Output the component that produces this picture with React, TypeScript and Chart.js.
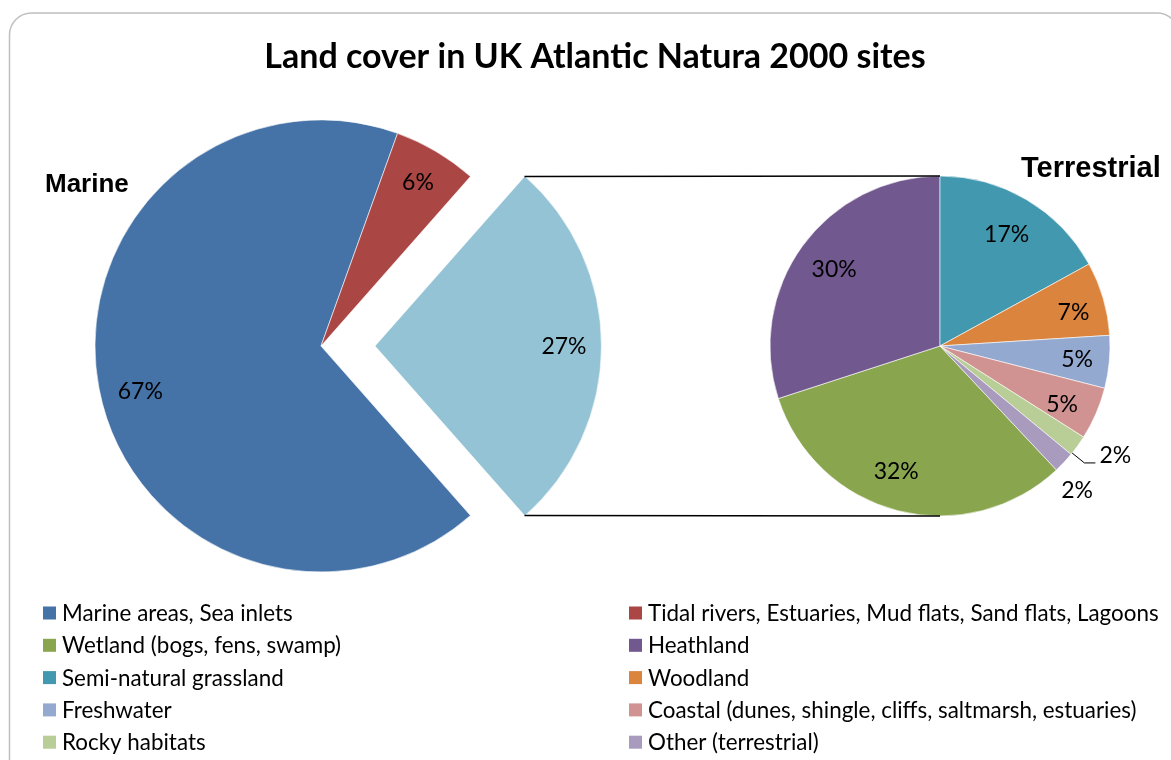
import React, { useEffect, useRef } from "react";
import { Chart, registerables } from "chart.js";

Chart.register(...registerables);

const W = 1171;
const H = 760;

// ---------- data ----------
const chartTitle = "Land cover in UK Atlantic Natura 2000 sites";
const mainPieTitle = "Marine";
const subPieTitle = "Terrestrial";

const mainCategories = [
  "Marine areas, Sea inlets",
  "Tidal rivers, Estuaries, Mud flats, Sand flats, Lagoons",
  "Terrestrial",
];
const mainValues = [67, 6, 27];
const mainColors = ["#4572A7", "#AA4643", "#93C3D4"];

const terrCategories = [
  "Wetland (bogs, fens, swamp)",
  "Heathland",
  "Semi-natural grassland",
  "Woodland",
  "Freshwater",
  "Coastal (dunes, shingle, cliffs, saltmarsh, estuaries)",
  "Rocky habitats",
  "Other (terrestrial)",
];
const terrValues = [32, 30, 17, 7, 5, 5, 2, 2];
const terrColors = [
  "#89A54E",
  "#71588F",
  "#4198AF",
  "#DB843D",
  "#93A9CF",
  "#D19392",
  "#B9CD96",
  "#A99BBD",
];

// ---------- styling / layout (not data) ----------
const LEFT_CX = 321;
const LEFT_CY = 346;
const LEFT_R = 226;
const EXPLODE = 54;
const RIGHT_CX = 940;
const RIGHT_CY = 346;
const RIGHT_R = 170;

const LABEL_SIZE = 23;
const LABEL_FONT = `${LABEL_SIZE}px Lato`;
const CAP = 0.358; // half cap-height ratio for vertical centring

type Place = { r: number; da?: number; leader?: { r1: number; r2: number; h: number } };
const leftPlacement: Place[] = [{ r: 0.824, da: -3.2 }, { r: 0.843 }, { r: 0.836 }];
const rightPlacement: Place[] = [
  { r: 0.775, da: 5 },
  { r: 0.77 },
  { r: 0.77 },
  { r: 0.81, da: 2 },
  { r: 0.81 },
  { r: 0.795, da: 2 },
  { r: 1, da: 3, leader: { r1: 1.0, r2: 1.093, h: 11 } },
  { r: 1.17, da: 3.2 },
];

const sum = (a: number[]) => a.reduce((s, v) => s + v, 0);

function drawLabels(chart: any, placement: Place[]) {
  const ctx = chart.ctx as CanvasRenderingContext2D;
  const meta = chart.getDatasetMeta(0);
  const vals = chart.data.datasets[0].data as number[];
  const total = sum(vals);
  ctx.save();
  ctx.font = LABEL_FONT;
  ctx.fillStyle = "#000";
  ctx.strokeStyle = "#000";
  meta.data.forEach((arc: any, i: number) => {
    const p = placement[i];
    const { x, y, startAngle, endAngle, outerRadius } = arc.getProps(
      ["x", "y", "startAngle", "endAngle", "outerRadius"],
      true
    );
    const mid = (startAngle + endAngle) / 2;
    const off = (arc.options.offset || 0) / 4;
    const cx = x + Math.cos(mid) * off;
    const cy = y + Math.sin(mid) * off;
    const a = mid + ((p.da || 0) * Math.PI) / 180;
    const text = Math.round((vals[i] / total) * 100) + "%";
    if (p.leader) {
      const x0 = cx + Math.cos(a) * outerRadius * p.leader.r1;
      const y0 = cy + Math.sin(a) * outerRadius * p.leader.r1;
      const x1 = cx + Math.cos(a) * outerRadius * p.leader.r2;
      const y1 = cy + Math.sin(a) * outerRadius * p.leader.r2;
      ctx.lineWidth = 1;
      ctx.beginPath();
      ctx.moveTo(x0, y0);
      ctx.lineTo(x1, y1);
      ctx.lineTo(x1 + p.leader.h, y1);
      ctx.stroke();
      ctx.textAlign = "left";
      ctx.textBaseline = "alphabetic";
      ctx.fillText(text, x1 + p.leader.h + 4, y1);
    } else {
      const lx = cx + Math.cos(a) * outerRadius * p.r;
      const ly = cy + Math.sin(a) * outerRadius * p.r;
      ctx.textAlign = "center";
      ctx.textBaseline = "alphabetic";
      ctx.fillText(text, lx, ly + LABEL_SIZE * CAP);
    }
  });
  ctx.restore();
}

const framePlugin = {
  id: "frame",
  beforeDraw(chart: any) {
    const ctx = chart.ctx as CanvasRenderingContext2D;
    const x0 = 9.5, y0 = 13, x1 = 1179, y1 = 800, r = 22;
    ctx.save();
    ctx.strokeStyle = "#BFBFBF";
    ctx.lineWidth = 1.5;
    ctx.beginPath();
    ctx.moveTo(x0 + r, y0);
    ctx.lineTo(x1 - r, y0);
    ctx.arcTo(x1, y0, x1, y0 + r, r);
    ctx.lineTo(x1, y1 - r);
    ctx.arcTo(x1, y1, x1 - r, y1, r);
    ctx.lineTo(x0 + r, y1);
    ctx.arcTo(x0, y1, x0, y1 - r, r);
    ctx.lineTo(x0, y0 + r);
    ctx.arcTo(x0, y0, x0 + r, y0, r);
    ctx.closePath();
    ctx.stroke();
    ctx.restore();
  },
};

const leftDecorPlugin = {
  id: "leftDecor",
  afterDatasetsDraw(chart: any) {
    drawLabels(chart, leftPlacement);
  },
  afterDraw(chart: any) {
    const ctx = chart.ctx as CanvasRenderingContext2D;
    ctx.save();
    // title
    ctx.fillStyle = "#000";
    ctx.font = "bold 34px Lato";
    ctx.textAlign = "center";
    ctx.textBaseline = "alphabetic";
    ctx.fillText(chartTitle, 595, 68);
    // pie titles
    ctx.font = "bold 26px 'Liberation Sans', Arial, sans-serif";
    ctx.textAlign = "left";
    ctx.fillText(mainPieTitle, 45, 192);
    ctx.font = "bold 29px 'Liberation Sans', Arial, sans-serif";
    ctx.fillText(subPieTitle, 1021, 177);
    // legend
    const items = [
      ...mainCategories.slice(0, 2).map((t, i) => ({ t, c: mainColors[i] })),
      ...terrCategories.map((t, i) => ({ t, c: terrColors[i] })),
    ];
    ctx.font = "22.4px Lato";
    items.forEach((it, i) => {
      const col = i % 2;
      const row = Math.floor(i / 2);
      const cy = 613 + row * 32.3;
      const sx = col === 0 ? 43 : 629;
      ctx.fillStyle = it.c;
      ctx.fillRect(sx, cy - 6.5, 13, 13);
      ctx.fillStyle = "#000";
      ctx.fillText(it.t, sx + 19, cy + 8);
    });
    ctx.restore();
  },
};

function makeRightPlugin(left: any) {
  return {
    id: "rightDecor",
    afterDatasetsDraw(chart: any) {
      drawLabels(chart, rightPlacement);
    },
    afterDraw(chart: any) {
      const ctx = chart.ctx as CanvasRenderingContext2D;
      const arc: any = left.getDatasetMeta(0).data[2];
      const rArc: any = chart.getDatasetMeta(0).data[0];
      if (!arc || !rArc) return;
      const mid = (arc.startAngle + arc.endAngle) / 2;
      const off = (arc.options.offset || 0) / 4;
      const cx = arc.x + Math.cos(mid) * off;
      const cy = arc.y + Math.sin(mid) * off;
      const R = arc.outerRadius;
      const tx = cx + Math.cos(arc.startAngle) * R;
      const ty = cy + Math.sin(arc.startAngle) * R;
      const bx = cx + Math.cos(arc.endAngle) * R;
      const by = cy + Math.sin(arc.endAngle) * R;
      const rx = rArc.x;
      const ry = rArc.y;
      const rr = rArc.outerRadius;
      ctx.save();
      ctx.strokeStyle = "#000";
      ctx.lineWidth = 1.5;
      ctx.beginPath();
      ctx.moveTo(tx, ty);
      ctx.lineTo(rx, ry - rr);
      ctx.moveTo(bx, by);
      ctx.lineTo(rx, ry + rr);
      ctx.stroke();
      ctx.restore();
    },
  };
}

export default function App() {
  const leftRef = useRef<HTMLCanvasElement>(null);
  const rightRef = useRef<HTMLCanvasElement>(null);

  useEffect(() => {
    const mainTotal = sum(mainValues);
    const terrTotal = sum(terrValues);
    const left = new Chart(leftRef.current as HTMLCanvasElement, {
      type: "pie",
      data: {
        labels: mainCategories,
        datasets: [
          {
            data: mainValues,
            backgroundColor: mainColors,
            borderColor: "#ffffff",
            borderWidth: 0.6,
            offset: mainValues.map((_, i) => (i === 2 ? EXPLODE * 4 : 0)),
            hoverOffset: 0,
          } as any,
        ],
      },
      options: {
        responsive: false,
        animation: false,
        events: [],
        rotation: 90 + (mainValues[2] / mainTotal) * 180,
        radius: LEFT_R,
        layout: {
          padding: { left: 0, top: 0, right: W - 2 * LEFT_CX, bottom: H - 2 * LEFT_CY },
        },
        plugins: {
          legend: { display: false },
          tooltip: { enabled: false },
          title: { display: false },
        },
      } as any,
      plugins: [framePlugin, leftDecorPlugin],
    });

    const right = new Chart(rightRef.current as HTMLCanvasElement, {
      type: "pie",
      data: {
        labels: terrCategories,
        datasets: [
          {
            data: terrValues,
            backgroundColor: terrColors,
            borderColor: "#ffffff",
            borderWidth: 0.6,
            hoverOffset: 0,
          } as any,
        ],
      },
      options: {
        responsive: false,
        animation: false,
        events: [],
        rotation: -((terrValues[0] + terrValues[1]) / terrTotal) * 360,
        radius: RIGHT_R,
        layout: {
          padding: { left: 2 * RIGHT_CX - W, top: 0, right: 0, bottom: H - 2 * RIGHT_CY },
        },
        plugins: {
          legend: { display: false },
          tooltip: { enabled: false },
          title: { display: false },
        },
      } as any,
      plugins: [makeRightPlugin(left)],
    });

    return () => {
      right.destroy();
      left.destroy();
    };
  }, []);

  return (
    <div
      style={{
        position: "fixed",
        left: 0,
        top: 0,
        width: W,
        height: H,
        background: "#fff",
        overflow: "hidden",
      }}
    >
      <canvas
        ref={leftRef}
        width={W}
        height={H}
        style={{ position: "absolute", left: 0, top: 0 }}
      />
      <canvas
        ref={rightRef}
        width={W}
        height={H}
        style={{ position: "absolute", left: 0, top: 0, pointerEvents: "none" }}
      />
    </div>
  );
}
